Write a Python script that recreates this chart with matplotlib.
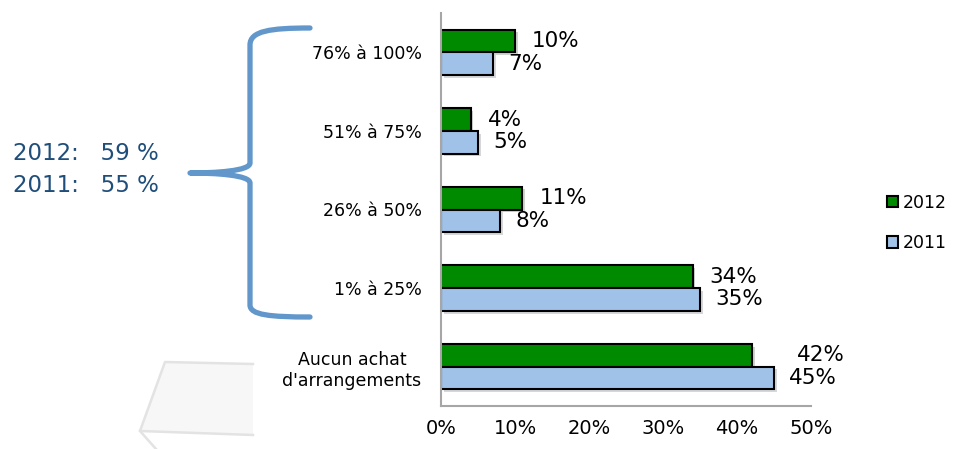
import matplotlib
matplotlib.use('Agg')
import matplotlib.pyplot as plt
import matplotlib.patheffects as pe
from matplotlib.path import Path
from matplotlib.patches import PathPatch, Polygon, Patch

categories = ["Aucun achat\nd'arrangements", '1% à 25%', '26% à 50%', '51% à 75%', '76% à 100%']
values_2012 = [42, 34, 11, 4, 10]
values_2011 = [45, 35, 8, 5, 7]
xticks = [0, 10, 20, 30, 40, 50]
summary_lines = ['2012:   59 %', '2011:   55 %']

green = '#008A00'
light_blue = '#A0C2E8'
brace_blue = '#6197CB'
text_blue = '#1F4E7A'

plt.rcParams['font.family'] = ['DejaVu Sans']

fig = plt.figure(figsize=(9.69, 4.49), dpi=100)

# decoration layer in pixel coords (x right, y down)
deco = fig.add_axes([0, 0, 1, 1], zorder=0)
deco.set_xlim(0, 969)
deco.set_ylim(449, 0)
deco.axis('off')

# faint box bottom-left (right side is hidden behind the chart area)
deco.add_patch(Polygon([(165, 362), (253, 364), (253, 435), (140, 431)], closed=True,
                       facecolor='#F7F7F7', edgecolor='none'))
deco.plot([253, 165, 140, 253], [364, 362, 431, 435], color='#E3E3E3', lw=1.8)
deco.plot([140, 156], [431, 449], color='#E3E3E3', lw=1.8)

# curly brace
verts = [(310, 28), (270, 28), (250, 31), (250, 45),
         (250, 163),
         (250, 171), (215, 173), (190, 173),
         (215, 173), (250, 175), (250, 183),
         (250, 305),
         (250, 315), (270, 317), (310, 317)]
codes = [Path.MOVETO, Path.CURVE4, Path.CURVE4, Path.CURVE4,
         Path.LINETO,
         Path.CURVE4, Path.CURVE4, Path.CURVE4,
         Path.CURVE4, Path.CURVE4, Path.CURVE4,
         Path.LINETO,
         Path.CURVE4, Path.CURVE4, Path.CURVE4]
deco.add_patch(PathPatch(Path(verts, codes), facecolor='none', edgecolor=brace_blue,
                         lw=3.8, capstyle='round', joinstyle='round'))

fig.text(13 / 969, 1 - 153 / 449, summary_lines[0], fontsize=16.5, color=text_blue, ha='left', va='center')
fig.text(13 / 969, 1 - 185 / 449, summary_lines[1], fontsize=16.5, color=text_blue, ha='left', va='center')

# main chart
ax = fig.add_axes([441 / 969, 1 - 406 / 449, 370 / 969, 393 / 449], zorder=1)
ax.patch.set_alpha(0)

h = 0.29
ypos = list(range(len(categories)))
shadow = [pe.SimplePatchShadow(offset=(2, -2), alpha=0.2), pe.Normal()]
ax.barh([y + h / 2 for y in ypos], values_2012, height=h, color=green,
        edgecolor='black', lw=1.5, path_effects=shadow)
ax.barh([y - h / 2 for y in ypos], values_2011, height=h, color=light_blue,
        edgecolor='black', lw=1.5, path_effects=shadow)

# labels: offset in pixels from bar end (42% was nudged further out in the original)
nudge_2012 = {0: 45}
for i, (v, y) in enumerate(zip(values_2012, ypos)):
    ax.annotate(f'{v}%', (v, y + h / 2), xytext=(nudge_2012.get(i, 17) * 0.72, 0),
                textcoords='offset points', va='center', ha='left', fontsize=15.5)
for v, y in zip(values_2011, ypos):
    ax.annotate(f'{v}%', (v, y - h / 2), xytext=(15 * 0.72, 0),
                textcoords='offset points', va='center', ha='left', fontsize=15.5)

ax.set_xlim(0, 50)
ax.set_ylim(-0.5, len(categories) - 0.5)
ax.set_xticks(xticks)
ax.set_xticklabels([f'{t}%' for t in xticks], fontsize=14)
ax.set_yticks(ypos)
ax.set_yticklabels(categories, fontsize=12.5, ha='right', multialignment='center')
ax.tick_params(axis='x', length=0, pad=9)
ax.tick_params(axis='y', length=0, pad=14)

for s in ['top', 'right']:
    ax.spines[s].set_visible(False)
for s in ['left', 'bottom']:
    ax.spines[s].set_color('#A6A6A6')
    ax.spines[s].set_linewidth(1.5)

handles = [Patch(facecolor=green, edgecolor='black', lw=1.5, label='2012'),
           Patch(facecolor=light_blue, edgecolor='black', lw=1.5, label='2011')]
fig.legend(handles=handles, loc='center left', bbox_to_anchor=(887 / 969, 1 - 223 / 449),
           frameon=False, fontsize=12.5, handlelength=0.65, handleheight=0.65,
           handletextpad=0.25, labelspacing=1.3, borderpad=0, borderaxespad=0)

fig.savefig('out.png', dpi=100)
